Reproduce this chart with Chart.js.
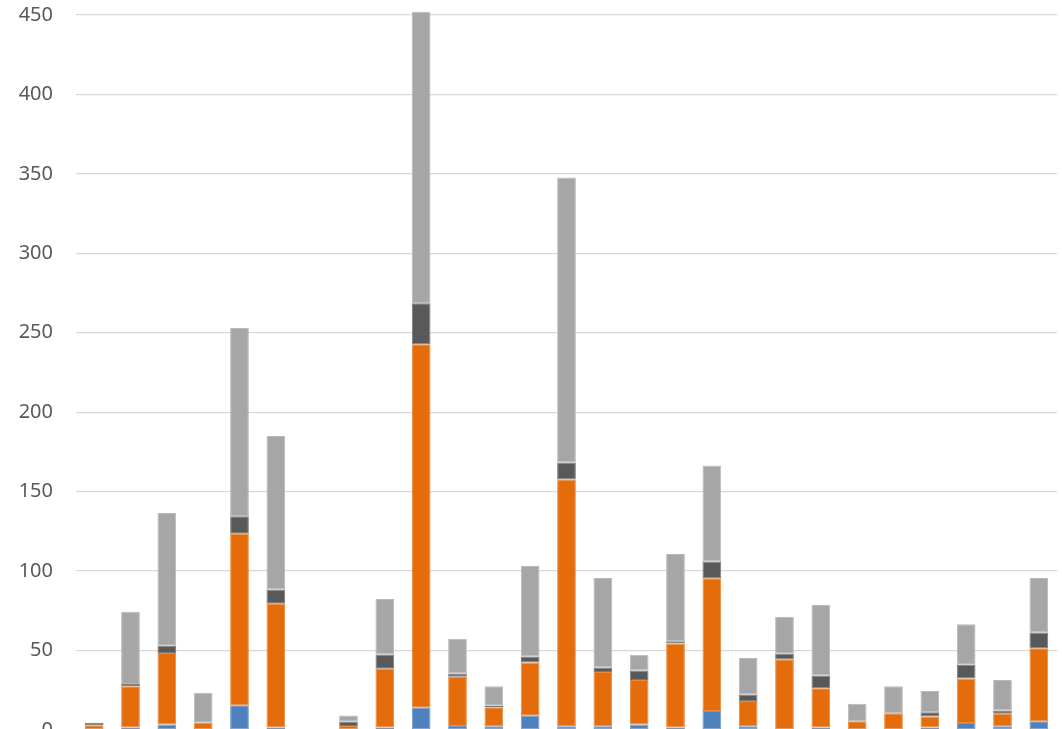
<!DOCTYPE html>
<html>
<head>
<meta charset="utf-8">
<script src="https://cdn.jsdelivr.net/npm/chart.js@4/dist/chart.umd.min.js"></script>
<style>
  html, body { margin: 0; padding: 0; background: #ffffff; overflow: hidden; }
  #wrap { position: relative; width: 1062px; height: 742px; }
</style>
</head>
<body>
<div id="wrap"><canvas id="c"></canvas></div>
<script>
const categories = ["1","2","3","4","5","6","7","8","9","10","11","12","13","14","15","16","17","18","19","20","21","22","23","24","25","26","27"];
const seriesBlue   = [0, 1.5, 3.5, 0, 15.5, 1.5, 0, 0, 1.5, 14, 2.5, 2.3, 9, 2.3, 2.3, 3.4, 1.5, 12, 2.3, 0.5, 1.5, 0, 0, 1.5, 4.4, 2.3, 5.5];
const seriesOrange = [3, 26, 45, 4.5, 108, 78, 0, 2.5, 37, 228.8, 31, 12, 33.5, 155.4, 34.2, 28, 53, 83.5, 16, 44, 24.8, 5.5, 10.5, 7, 28, 8, 46];
const seriesDark   = [1.5, 1.5, 4.5, 0, 11, 9, 0, 2.7, 9, 25.8, 2, 1, 3.7, 10.7, 2.8, 6, 1.3, 10.5, 4, 3.5, 8, 0, 0, 2.7, 8.7, 1.9, 9.8];
const seriesGray   = [0, 45.5, 83.5, 19, 118.5, 96.5, 0, 4, 35, 183.4, 22, 12.2, 57, 179.4, 56.3, 10, 55, 60.5, 23, 23.3, 44.4, 11, 17, 13.3, 25.4, 19.3, 34.3];
const yMin = 0, yMax = 450, yStep = 50;

const colors = ["#4F81BD", "#E46C0A", "#595959", "#A6A6A6"];
const edgeColors = ["#729ACA", "#E9893B", "#7A7A7A", "#B8B8B8"];
const allSeries = [seriesBlue, seriesOrange, seriesDark, seriesGray];

const datasets = allSeries.map((d, i) => ({
  label: "S" + (i + 1),
  data: d,
  backgroundColor: colors[i],
  borderColor: edgeColors[i],
  borderWidth: 1,
  borderSkipped: false,
  clip: false,
  categoryPercentage: 1.0,
  barPercentage: 0.515
}));

new Chart(document.getElementById("c"), {
  type: "bar",
  data: { labels: categories, datasets },
  options: {
    responsive: true,
    maintainAspectRatio: false,
    animation: false,
    layout: { padding: { top: 0, left: 18, right: 5, bottom: 2 } },
    plugins: { legend: { display: false }, tooltip: { enabled: false } },
    scales: {
      x: { stacked: true, display: false, grid: { display: false } },
      y: {
        stacked: true,
        min: yMin, max: yMax,
        ticks: { stepSize: yStep, padding: 23, color: "#595959", font: { family: "Noto Sans", size: 20 } },
        grid: { color: "#D9D9D9", lineWidth: 1.3, drawTicks: false },
        border: { display: false },
        afterFit(scale) {
          scale.width = 58;
          scale.paddingTop = 15;
          scale.paddingBottom = 12;
          scale.paddingLeft = 0;
          scale.paddingRight = 0;
        }
      }
    }
  }
});
</script>
</body>
</html>
